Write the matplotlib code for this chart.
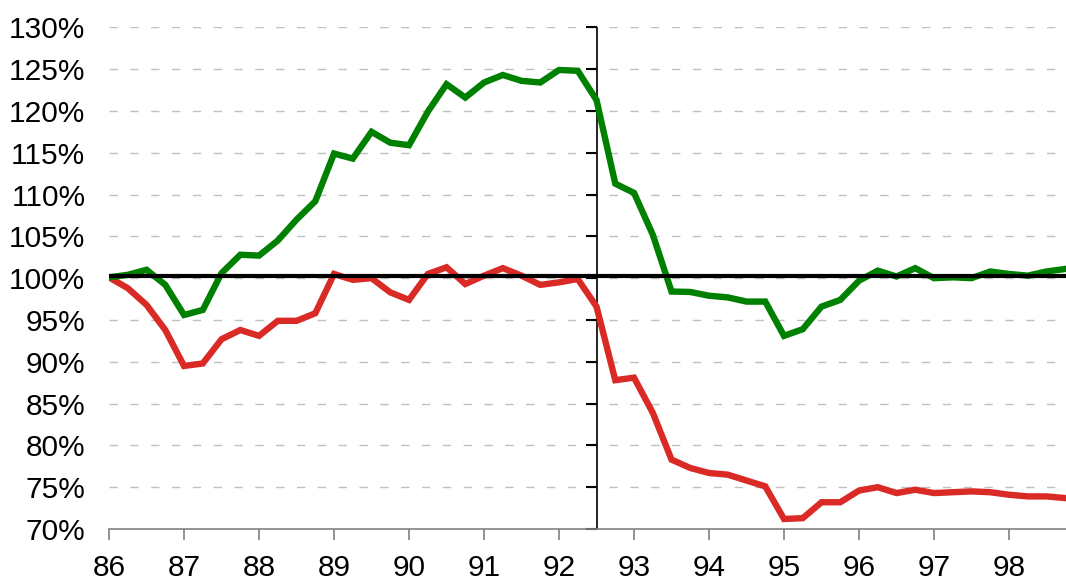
import numpy as np
import matplotlib
matplotlib.use("Agg")
import matplotlib.pyplot as plt
from matplotlib.ticker import FuncFormatter

plt.rcParams['font.family'] = ['Liberation Sans', 'DejaVu Sans']

# quarterly index, 1986 Q1 .. 1998 Q4 (base = 100%)
start_year = 86
quarters = np.arange(52)

green = [100.1, 100.4, 101.0, 99.2, 95.6, 96.2, 100.6, 102.8,
         102.7, 104.5, 107.0, 109.2, 114.9, 114.3, 117.5, 116.2,
         115.9, 119.9, 123.2, 121.6, 123.4, 124.3, 123.6, 123.4,
         124.9, 124.8, 121.3, 111.3, 110.2, 105.2, 98.4, 98.35,
         97.9, 97.7, 97.2, 97.2, 93.1, 93.9, 96.6, 97.4,
         99.7, 100.9, 100.2, 101.2, 100.0, 100.1, 100.0, 100.8,
         100.5, 100.3, 100.8, 101.1]

red = [100.1, 98.8, 96.8, 93.8, 89.5, 89.8, 92.7, 93.8,
       93.1, 94.9, 94.9, 95.8, 100.5, 99.8, 100.0, 98.3,
       97.4, 100.5, 101.3, 99.3, 100.3, 101.2, 100.3, 99.2,
       99.5, 99.9, 96.6, 87.8, 88.1, 83.9, 78.3, 77.3,
       76.7, 76.5, 75.8, 75.1, 71.2, 71.3, 73.2, 73.2,
       74.6, 75.0, 74.3, 74.7, 74.3, 74.4, 74.5, 74.4,
       74.1, 73.9, 73.9, 73.7]

year_ticks = list(range(86, 99))
y_ticks = list(range(70, 131, 5))
baseline = 100.3
break_point = 92.5

x = start_year + quarters * 0.25

fig = plt.figure(figsize=(10.66, 5.85), dpi=100)
ax = fig.add_axes([0.1023, 0.0957, 0.8977, 0.8576])

# grid
for v in y_ticks[1:]:
    ax.axhline(v, color='#c0c0c0', lw=1.0, dashes=(6, 9), zorder=1)

ax.axvline(break_point, color='#111111', lw=1.3, zorder=2)

ax.plot(x, green, color='#008000', lw=4.6, zorder=4, solid_joinstyle='miter')
ax.plot(x, red, color='#DA2A26', lw=4.6, zorder=3, solid_joinstyle='miter')

ax.axhline(baseline, color='black', lw=3.0, zorder=5)

ax.set_xlim(86, 98.76)
ax.set_ylim(70, 130)

for s in ['top', 'right']:
    ax.spines[s].set_visible(False)
ax.spines['left'].set_position(('data', break_point))
ax.spines['left'].set_visible(False)
ax.spines['bottom'].set_color('#808080')
ax.spines['bottom'].set_linewidth(1.2)

ax.set_xticks(year_ticks)
ax.set_xticklabels([str(y) for y in year_ticks])
ax.tick_params(axis='x', direction='out', length=8, width=1.2, color='#808080',
               labelsize=21.5, pad=10)

ax.set_yticks(y_ticks)
ax.tick_params(axis='y', direction='out', length=8, width=1.5, color='black',
               labelleft=False)

# percentage labels at the left edge
sec = ax.secondary_yaxis('left')
sec.set_yticks(y_ticks)
sec.yaxis.set_major_formatter(FuncFormatter(lambda v, p: f'{v:.0f}%'))
sec.spines['left'].set_visible(False)
sec.tick_params(axis='y', length=0, labelsize=21.5, pad=17)

fig.savefig('out.png', dpi=100)
